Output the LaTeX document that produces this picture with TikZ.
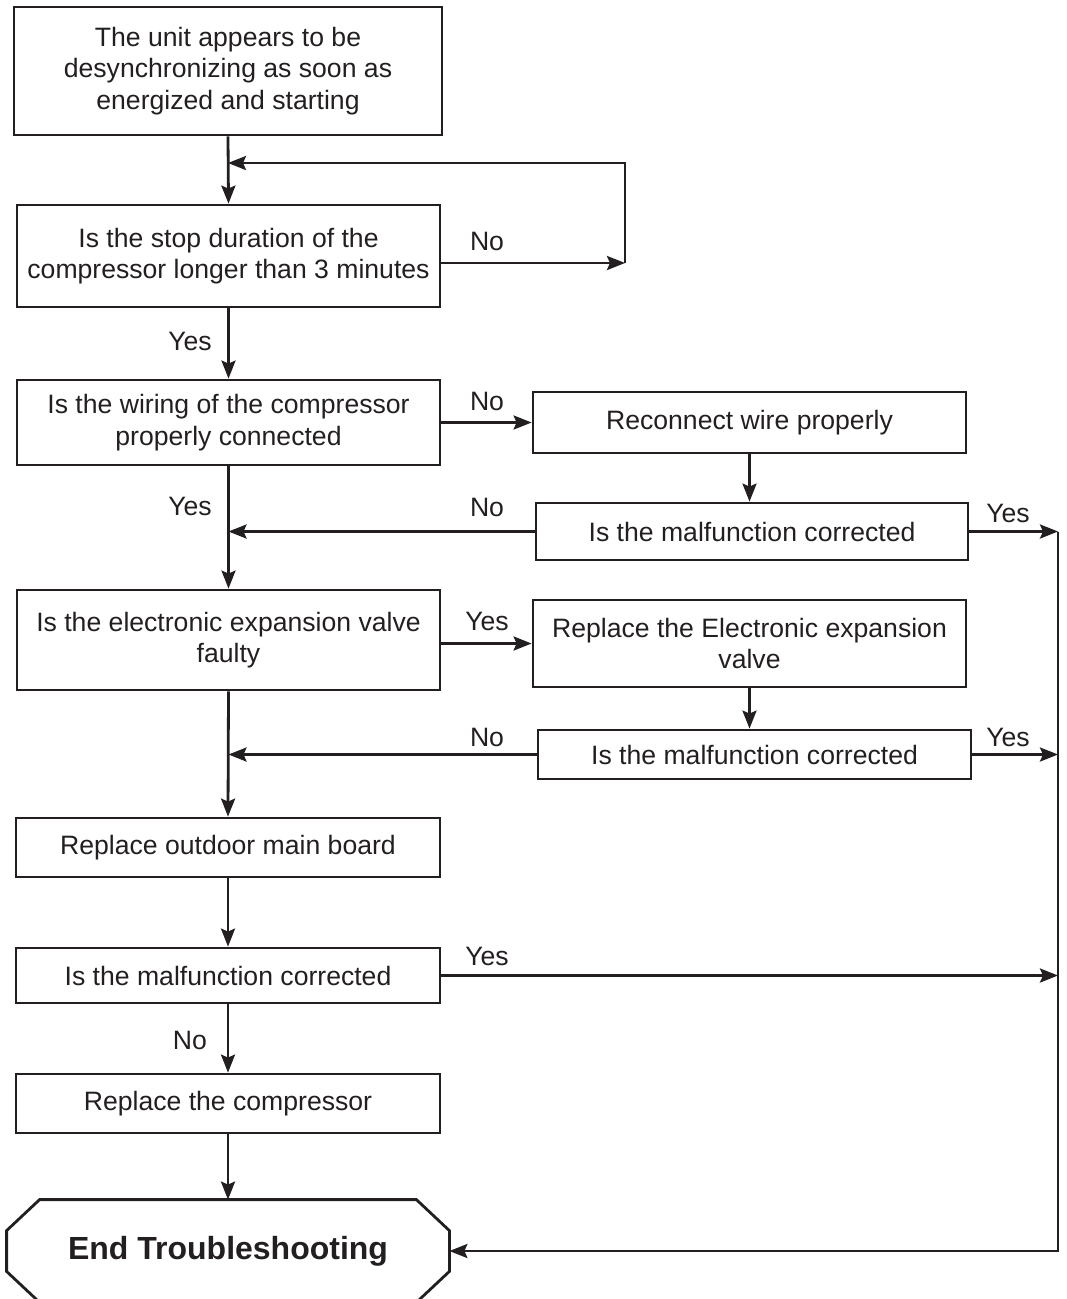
\documentclass[tikz,border=0pt]{standalone}
\usepackage{fontspec}
\setmainfont{Liberation Sans}
\usetikzlibrary{arrows.meta}
\definecolor{ink}{RGB}{35,31,32}
\begin{document}
\begin{tikzpicture}[x=1pt,y=-1pt,line width=2.8pt,color=ink,
  box/.style={draw,rectangle,inner sep=0pt,align=center,font=\fontsize{26.6}{31.5}\selectfont},
  lbl/.style={inner sep=0pt,font=\fontsize{26.6}{31}\selectfont},
  flow/.style={-{Stealth[length=18pt,width=14pt,inset=3pt]}}]
\path[use as bounding box] (0,0) rectangle (1066,1299);
\node[box,minimum width=428pt,minimum height=128pt] (start) at (228,71) {The unit appears to be\\desynchronizing as soon as\\energized and starting};
\node[box,minimum width=423pt,minimum height=102pt] (stop) at (228.5,256) {Is the stop duration of the\\compressor longer than 3 minutes};
\node[box,minimum width=423pt,minimum height=85pt] (wiring) at (228.5,422.5) {Is the wiring of the compressor\\properly connected};
\node[box,minimum width=433pt,minimum height=61pt] (rewire) at (749.5,422.5) {Reconnect wire properly};
\node[box,minimum width=432pt,minimum height=57pt] (fixa) at (752,531.5) {Is the malfunction corrected};
\node[box,minimum width=423pt,minimum height=100pt] (valve) at (228.5,640) {Is the electronic expansion valve\\faulty};
\node[box,minimum width=433pt,minimum height=87pt] (newvalve) at (749.5,643.5) {Replace the Electronic expansion\\valve};
\node[box,minimum width=433pt,minimum height=49pt] (fixb) at (754.5,754.5) {Is the malfunction corrected};
\node[box,minimum width=424pt,minimum height=59pt] (board) at (228,847.5) {Replace outdoor main board};
\node[box,minimum width=424pt,minimum height=55pt] (fixc) at (228,975.5) {Is the malfunction corrected};
\node[box,minimum width=424pt,minimum height=59pt] (comp) at (228,1103.5) {Replace the compressor};
\node[inner sep=0pt,minimum width=440pt,minimum height=100pt,font=\bfseries\fontsize{32}{36}\selectfont] (end) at (228,1251) {End Troubleshooting};
\draw ([xshift=33pt]end.north west) -- ([xshift=-33pt]end.north east) -- ([yshift=-31pt]end.north east) -- ([yshift=31pt]end.south east) -- ([xshift=-33pt]end.south east) -- ([xshift=33pt]end.south west) -- ([yshift=31pt]end.south west) -- ([yshift=-31pt]end.north west) -- cycle;
\coordinate (loop) at (625,263);
\coordinate (back) at (228,163);
\coordinate (rail) at (1058,0);
\draw[flow] (start.south) -- (stop.north);
\draw[flow] (stop.east |- loop) -- (loop);
\draw[flow] (loop) |- (back);
\draw[flow] (stop.south) -- (wiring.north);
\draw[flow] (wiring.east) -- (wiring.east -| rewire.west);
\draw[flow] (rewire.south) -- (rewire.south |- fixa.north);
\draw[flow] (fixa.west) -- (fixa.west -| wiring.south);
\draw[flow] (fixa.east) -- (fixa.east -| rail);
\draw[flow] (wiring.south) -- (valve.north);
\draw[flow] (valve.east |- newvalve.west) -- (newvalve.west);
\draw[flow] (newvalve.south) -- (newvalve.south |- fixb.north);
\draw[flow] (fixb.west) -- (fixb.west -| valve.south);
\draw[flow] (fixb.east) -- (fixb.east -| rail);
\draw[flow] (valve.south) -- (board.north);
\draw[flow] (board.south) -- (fixc.north);
\draw[flow] (fixc.east) -- (fixc.east -| rail);
\draw[flow] (fixc.south) -- (comp.north);
\draw[flow] (comp.south) -- (end.north);
\draw[flow] (fixa.east -| rail) |- (end.east);
\node[lbl] at (487,241) {No};
\node[lbl] at (190,341) {Yes};
\node[lbl] at (487,401) {No};
\node[lbl] at (190,506) {Yes};
\node[lbl] at (487,507) {No};
\node[lbl] at (1008,513) {Yes};
\node[lbl] at (487,621) {Yes};
\node[lbl] at (487,737) {No};
\node[lbl] at (1008,737) {Yes};
\node[lbl] at (487,956) {Yes};
\node[lbl] at (190,1040) {No};
\end{tikzpicture}
\end{document}
